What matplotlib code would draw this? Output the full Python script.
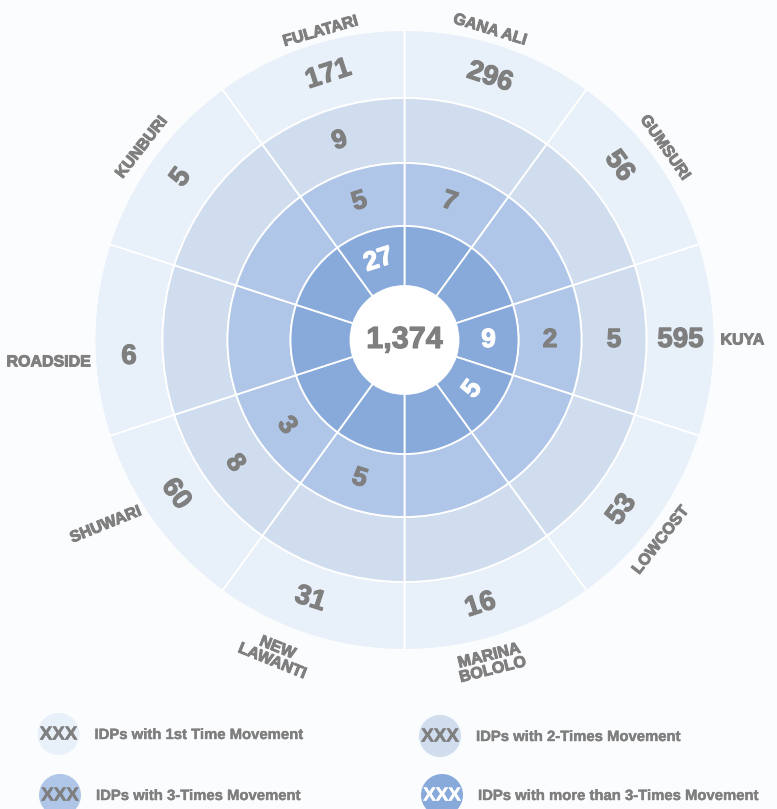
import numpy as np
import matplotlib
matplotlib.use("Agg")
import matplotlib.pyplot as plt
import matplotlib.patheffects as pe
from matplotlib.patches import Circle

# sectors, clockwise from the top
camps = ['GANA ALI', 'GUMSURI', 'KUYA', 'LOWCOST', 'MARINA\nBOLOLO',
         'NEW\nLAWANTI', 'SHUWARI', 'ROADSIDE', 'KUNBURI', 'FULATARI']
first_time = [296, 56, 595, 53, 16, 31, 60, 6, 5, 171]
two_times = [None, None, 5, None, None, None, 8, None, None, 9]
three_times = [7, None, 2, None, None, 5, 3, None, None, 5]
more_than_three = [None, None, 9, 5, None, None, None, None, None, 27]
total = 1374

legend_labels = ['IDPs with 1st Time Movement', 'IDPs with 2-Times Movement',
                 'IDPs with 3-Times Movement', 'IDPs with more than 3-Times Movement']

# styling
bg = '#fbfcfe'
grey = '#7f7f7f'
ring_colors = ['#e8f0f9', '#cfddee', '#afc6e8', '#88aadb']  # outer -> inner
ring_edges = [310, 242, 177, 114, 54]                         # px radii
label_rot = [-17, -55, 0, 52, 14, -22, 22, 0, 52, 16]
label_r = [322, 324, 316, 325, 334, 340, 351, 314, 326, 320]
label_dang = [-2.6, -0.4, 0, 2, 3, 4.4, 4.3, -4, 0.3, 2.8]
outer_dang = [0, -3, 0, 2, 2, 2, 2, -3.5, 0, 2]
font = 'Liberation Sans'


def heavy(color, lw=0.8):
    # thin outline so the bold text looks as heavy as in the original
    return [pe.withStroke(linewidth=lw, foreground=color)]


W, H = 777, 809
cx, cy, R = 404.5, 340, 310

fig = plt.figure(figsize=(W / 100, H / 100), dpi=100, facecolor=bg)
ax = fig.add_axes([(cx - R) / W, (H - cy - R) / H, 2 * R / W, 2 * R / H],
                  projection='polar')
ax.set_theta_zero_location('N')
ax.set_theta_direction(-1)
ax.set_ylim(0, R)
ax.set_facecolor('none')
ax.axis('off')

n = len(camps)
step = 2 * np.pi / n
theta = np.arange(n) * step + step / 2

series = [first_time, two_times, three_times, more_than_three]
for k, vals in enumerate(series):
    outer, inner = ring_edges[k], ring_edges[k + 1]
    ax.bar(theta, outer - inner, width=step, bottom=inner,
           color=ring_colors[k], edgecolor='white', linewidth=1.3)
    mid = (outer + inner) / 2
    for i, v in enumerate(vals):
        if v is None:
            continue
        deg = np.degrees(theta[i])
        rot = (-deg) % 180
        if rot > 90:
            rot -= 180
        if abs(abs(rot) - 90) < 1:
            rot = 0
        th = theta[i] + (np.radians(outer_dang[i]) if k == 0 else 0)
        col = 'white' if k == 3 else grey
        ax.text(th, mid, f'{v:,}', rotation=rot, rotation_mode='anchor',
                ha='center', va='center', fontsize=20 if k == 0 else 19,
                fontweight='bold', family=font, color=col,
                path_effects=heavy(col, 0.8))

# centre circle with the total
ax.bar(0, ring_edges[-1], width=2 * np.pi, bottom=0, color='white',
       edgecolor='none')
ax.text(0, 0, f'{total:,}', ha='center', va='center', fontsize=22,
        fontweight='bold', family=font, color=grey,
        path_effects=heavy(grey, 0.8))

# camp names round the outside
for i, name in enumerate(camps):
    th = theta[i] + np.radians(label_dang[i])
    ha = 'center'
    if name == 'KUYA':
        ha = 'left'
    elif name == 'ROADSIDE':
        ha = 'right'
    ax.text(th, label_r[i], name, rotation=label_rot[i], rotation_mode='anchor',
            ha=ha, va='center', fontsize=11.5, fontweight='bold',
            family=font, color=grey, linespacing=0.95, clip_on=False,
            path_effects=heavy(grey, 0.7))

# legend
lax = fig.add_axes([0, 0, 1, 1], zorder=-1)
lax.set_xlim(0, W)
lax.set_ylim(H, 0)
lax.axis('off')
legend_pos = [(58.5, 734), (440, 736), (60, 795), (442, 795)]
for k, ((x, y), lab) in enumerate(zip(legend_pos, legend_labels)):
    lax.add_patch(Circle((x, y), 21, color=ring_colors[k], ec='none'))
    col = 'white' if k == 3 else grey
    lax.text(x, y + 1, 'XXX', ha='center', va='center', fontsize=13.5,
             fontweight='bold', family=font, color=col,
             path_effects=heavy(col, 0.4))
    lax.text(x + 36, y + 1, lab, ha='left', va='center', fontsize=10.7,
             fontweight='bold', family=font, color=grey,
             path_effects=heavy(grey, 0.3))

fig.savefig('out.png', dpi=100, facecolor=bg)
